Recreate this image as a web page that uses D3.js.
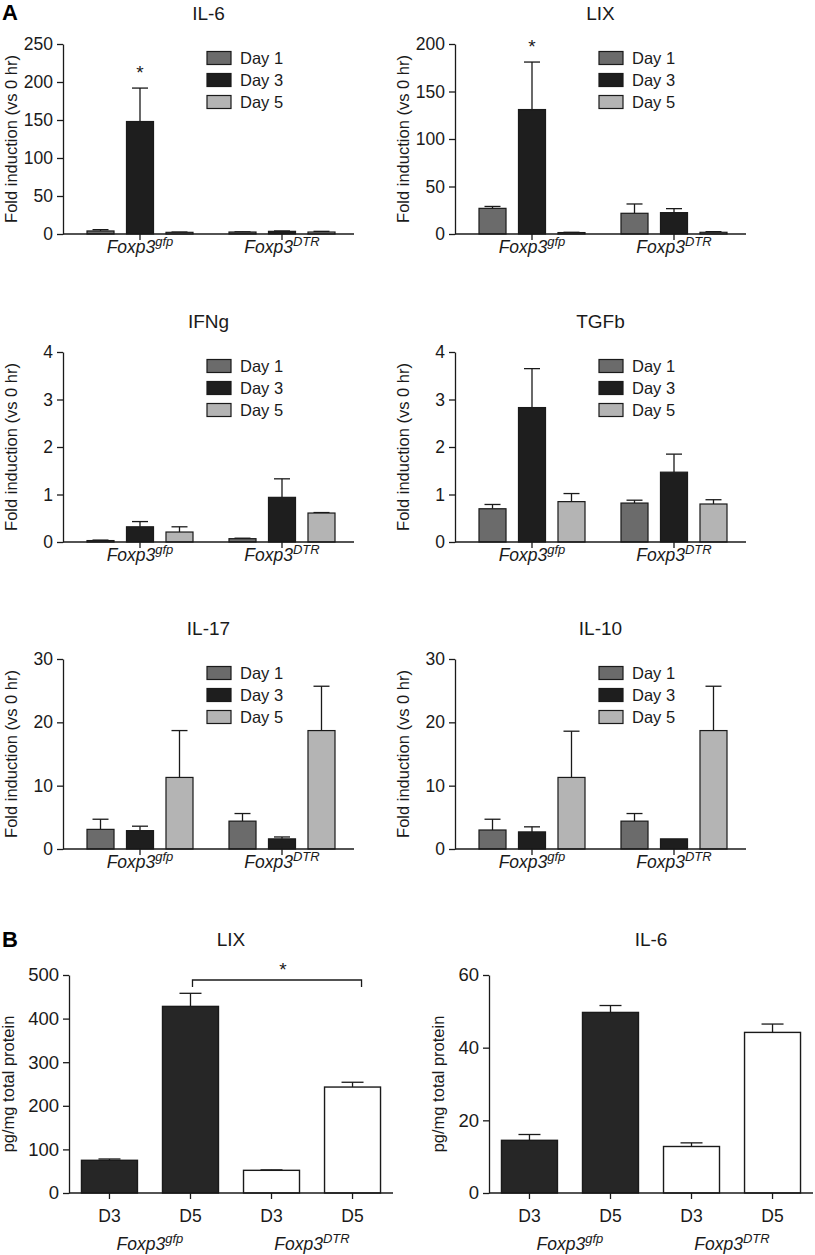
<!DOCTYPE html>
<html>
<head>
<meta charset="utf-8">
<script src="https://cdn.jsdelivr.net/npm/d3@7"></script>
<style>
  html, body { margin: 0; padding: 0; background: #fff; }
  svg { display: block; font-family: "Liberation Sans", Arial, Helvetica, sans-serif; }
</style>
</head>
<body>
<svg id="chart" width="815" height="1255"></svg>
<script>
// ---------------- DATA ----------------
const groups = ["gfp", "DTR"];
const days = ["Day 1", "Day 3", "Day 5"];
const dayColors = ["#6b6b6b", "#1e1e1e", "#b4b4b4"];

const panelTitles = ["IL-6", "LIX", "IFNg", "TGFb", "IL-17", "IL-10"];

// means [group][day], upper end of error bar [group][day]
const il6Mean  = [[4.0, 148, 2.2], [2.6, 3.5, 2.6]];
const il6Upper = [[5.7, 192, 2.6], [2.9, 4.0, 3.5]];
const il6Ticks = [0, 50, 100, 150, 200, 250];

const lixMean  = [[27, 131, 1.5], [21.8, 22.5, 1.8]];
const lixUpper = [[29, 181, 1.8], [31.6, 26.7, 2.5]];
const lixTicks = [0, 50, 100, 150, 200];

const ifngMean  = [[0.03, 0.32, 0.21], [0.07, 0.94, 0.61]];
const ifngUpper = [[0.04, 0.43, 0.32], [0.08, 1.33, 0.62]];
const ifngTicks = [0, 1, 2, 3, 4];

const tgfbMean  = [[0.70, 2.83, 0.85], [0.82, 1.47, 0.80]];
const tgfbUpper = [[0.79, 3.65, 1.02], [0.88, 1.85, 0.89]];
const tgfbTicks = [0, 1, 2, 3, 4];

const il17Mean  = [[3.1, 2.9, 11.3], [4.4, 1.6, 18.7]];
const il17Upper = [[4.7, 3.6, 18.7], [5.6, 1.9, 25.7]];
const il17Ticks = [0, 10, 20, 30];

const il10Mean  = [[3.0, 2.7, 11.3], [4.4, 1.6, 18.7]];
const il10Upper = [[4.7, 3.5, 18.6], [5.6, 1.6, 25.7]];
const il10Ticks = [0, 10, 20, 30];

const panelMeans  = [il6Mean, lixMean, ifngMean, tgfbMean, il17Mean, il10Mean];
const panelUppers = [il6Upper, lixUpper, ifngUpper, tgfbUpper, il17Upper, il10Upper];
const panelTicks  = [il6Ticks, lixTicks, ifngTicks, tgfbTicks, il17Ticks, il10Ticks];
const panelStars  = [[0, 1], [0, 1], null, null, null, null]; // [group, day] with asterisk

// Panel B
const bBars = ["D3", "D5", "D3", "D5"];
const bGroupOf = [0, 0, 1, 1];
const bTitles = ["LIX", "IL-6"];
const bLixMean  = [75, 428, 52, 243];
const bLixUpper = [78, 458, 53, 254];
const bLixTicks = [0, 100, 200, 300, 400, 500];
const bIl6Mean  = [14.5, 49.7, 12.8, 44.2];
const bIl6Upper = [16.1, 51.6, 13.8, 46.5];
const bIl6Ticks = [0, 20, 40, 60];
const bColors = ["#262626", "#262626", "#ffffff", "#ffffff"];

// ---------------- DRAW ----------------
const svg = d3.select("#chart");
const ink = "#1a1a1a";
const TICKF = 17.5;
const LABF = 16.5;
const LEGF = 16.5;
const TITLEF = 19;

function groupLabel(sel, x, y, g, size, supSize) {
  const t = sel.append("text").attr("x", x).attr("y", y)
    .attr("text-anchor", "middle").attr("font-size", size).attr("fill", ink)
    .attr("font-style", "italic");
  t.append("tspan").text("Foxp3");
  t.append("tspan").attr("font-size", supSize).attr("dy", -size * 0.38).text(g);
}

function drawA(i) {
  const col = i % 2, row = Math.floor(i / 2);
  const ax = [63, 455][col];
  const top = [44, 352, 659][row];
  const bottom = [234, 542, 849][row];
  const W = 291;
  const means = panelMeans[i], uppers = panelUppers[i], ticks = panelTicks[i];
  const g = svg.append("g");

  const x0 = d3.scaleBand().domain(groups).range([ax + 24, ax + 272]).paddingInner(0.2535);
  const x1 = d3.scaleBand().domain(days).range([0, x0.bandwidth()]).paddingInner(0.316);
  const y = d3.scaleLinear().domain([0, d3.max(ticks)]).range([bottom, top]);

  // title
  g.append("text").attr("x", ax + W / 2).attr("y", top - 24)
    .attr("text-anchor", "middle").attr("font-size", TITLEF).attr("fill", ink).text(panelTitles[i]);

  // y axis
  const ya = g.append("g").attr("transform", `translate(${ax},0)`)
    .call(d3.axisLeft(y).tickValues(ticks).tickFormat(d3.format("d")).tickSize(6).tickSizeOuter(0).tickPadding(4));
  ya.attr("font-family", null).attr("font-size", null);
  ya.selectAll("text").attr("font-size", TICKF).attr("fill", ink);
  ya.selectAll("line,path").attr("stroke", ink).attr("stroke-width", 1.3);

  // y label
  g.append("text").attr("transform", `translate(${ax - 46},${(top + bottom) / 2}) rotate(-90)`)
    .attr("text-anchor", "middle").attr("font-size", LABF).attr("fill", ink)
    .text("Fold induction (vs 0 hr)");

  // bars
  groups.forEach((gk, gi) => {
    days.forEach((dk, di) => {
      const bx = x0(gk) + x1(dk);
      const v = means[gi][di], u = uppers[gi][di];
      const cx = bx + x1.bandwidth() / 2;
      if (u > v) {
        g.append("line").attr("x1", cx).attr("x2", cx).attr("y1", y(v)).attr("y2", y(u))
          .attr("stroke", ink).attr("stroke-width", 1.3);
        g.append("line").attr("x1", cx - 8).attr("x2", cx + 8).attr("y1", y(u)).attr("y2", y(u))
          .attr("stroke", ink).attr("stroke-width", 1.3);
      }
      g.append("rect").attr("x", bx).attr("y", y(v)).attr("width", x1.bandwidth())
        .attr("height", y(0) - y(v)).attr("fill", dayColors[di])
        .attr("stroke", ink).attr("stroke-width", 1.2);
    });
  });

  // star
  const st = panelStars[i];
  if (st) {
    const cx = x0(groups[st[0]]) + x1(days[st[1]]) + x1.bandwidth() / 2;
    g.append("text").attr("x", cx).attr("y", y(panelUppers[i][st[0]][st[1]]) - 9)
      .attr("text-anchor", "middle").attr("font-size", 19).attr("fill", ink).text("*");
  }

  // x axis
  const xa = g.append("g").attr("transform", `translate(0,${bottom})`)
    .call(d3.axisBottom(x0).tickSize(6).tickSizeOuter(0).tickFormat(""));
  xa.select("path").remove();
  xa.selectAll("line").attr("stroke", ink).attr("stroke-width", 1.3);
  g.append("line").attr("x1", ax).attr("x2", ax + W).attr("y1", bottom).attr("y2", bottom)
    .attr("stroke", ink).attr("stroke-width", 1.3);

  groups.forEach(gk => {
    groupLabel(g, x0(gk) + x0.bandwidth() / 2, bottom + 19, gk, 17.5, 13);
  });

  // legend
  const lg = g.append("g").attr("transform", `translate(${ax + 144},${top})`);
  days.forEach((dk, di) => {
    const cy = 14 + di * 22;
    lg.append("rect").attr("x", 0).attr("y", cy - 6.5).attr("width", 24).attr("height", 13)
      .attr("fill", dayColors[di]).attr("stroke", ink).attr("stroke-width", 1.2);
    lg.append("text").attr("x", 33).attr("y", cy + 6).attr("font-size", LEGF).attr("fill", ink).text(dk);
  });
}

for (let i = 0; i < 6; i++) drawA(i);

function drawB(k) {
  const ax = [69, 489][k];
  const top = 975, bottom = 1193, W = 324;
  const means = [bLixMean, bIl6Mean][k];
  const uppers = [bLixUpper, bIl6Upper][k];
  const ticks = [bLixTicks, bIl6Ticks][k];
  const keys = bBars.map((b, j) => j);
  const g = svg.append("g");
  const x = d3.scaleBand().domain(keys).range([ax, ax + W]).paddingInner(0.309).paddingOuter(0.154);
  const y = d3.scaleLinear().domain([0, d3.max(ticks)]).range([bottom, top]);

  g.append("text").attr("x", ax + W / 2).attr("y", 946).attr("text-anchor", "middle")
    .attr("font-size", TITLEF).attr("fill", ink).text(bTitles[k]);

  const ya = g.append("g").attr("transform", `translate(${ax},0)`)
    .call(d3.axisLeft(y).tickValues(ticks).tickFormat(d3.format("d")).tickSize(6).tickSizeOuter(0).tickPadding(4));
  ya.attr("font-family", null).attr("font-size", null);
  ya.selectAll("text").attr("font-size", 18.5).attr("fill", ink);
  ya.selectAll("line,path").attr("stroke", ink).attr("stroke-width", 1.3);

  g.append("text").attr("transform", `translate(${ax - [55, 45][k]},${(top + bottom) / 2}) rotate(-90)`)
    .attr("text-anchor", "middle").attr("font-size", LABF).attr("fill", ink).text("pg/mg total protein");

  keys.forEach(j => {
    const bx = x(j), v = means[j], u = uppers[j];
    const cx = bx + x.bandwidth() / 2;
    g.append("line").attr("x1", cx).attr("x2", cx).attr("y1", y(v)).attr("y2", y(u))
      .attr("stroke", ink).attr("stroke-width", 1.3);
    g.append("line").attr("x1", cx - 11).attr("x2", cx + 11).attr("y1", y(u)).attr("y2", y(u))
      .attr("stroke", ink).attr("stroke-width", 1.3);
    g.append("rect").attr("x", bx).attr("y", y(v)).attr("width", x.bandwidth())
      .attr("height", y(0) - y(v)).attr("fill", bColors[j]).attr("stroke", ink).attr("stroke-width", 1.4);
  });

  const xa = g.append("g").attr("transform", `translate(0,${bottom})`)
    .call(d3.axisBottom(x).tickSize(6).tickSizeOuter(0).tickPadding(11).tickFormat(j => bBars[j]));
  xa.select("path").remove();
  xa.attr("font-family", null).attr("font-size", null);
  xa.selectAll("line").attr("stroke", ink).attr("stroke-width", 1.3);
  xa.selectAll("text").attr("font-size", 17.5).attr("fill", ink);
  g.append("line").attr("x1", ax).attr("x2", ax + W).attr("y1", bottom).attr("y2", bottom)
    .attr("stroke", ink).attr("stroke-width", 1.3);

  groups.forEach((gk, gi) => {
    const js = keys.filter(j => bGroupOf[j] === gi);
    const cx = (x(js[0]) + x(js[js.length - 1]) + x.bandwidth()) / 2;
    groupLabel(g, cx, 1250, gk, 17.5, 13);
  });

  if (k === 0) {
    const xl = x(1) + x.bandwidth() / 2 + 2;
    const xr = x(3) + x.bandwidth() / 2 + 9;
    const yb = 980;
    g.append("path").attr("d", `M${xl},${yb + 7}V${yb}H${xr}V${yb + 7}`)
      .attr("fill", "none").attr("stroke", ink).attr("stroke-width", 1.3);
    g.append("text").attr("x", (xl + xr) / 2 + 6).attr("y", yb - 4).attr("text-anchor", "middle")
      .attr("font-size", 19).attr("fill", ink).text("*");
  }
}
drawB(0);
drawB(1);

// panel letters
svg.append("text").attr("x", 2).attr("y", 20).attr("font-size", 22).attr("font-weight", "bold").attr("fill", "#000").text("A");
svg.append("text").attr("x", 2).attr("y", 947).attr("font-size", 22).attr("font-weight", "bold").attr("fill", "#000").text("B");
</script>
</body>
</html>
